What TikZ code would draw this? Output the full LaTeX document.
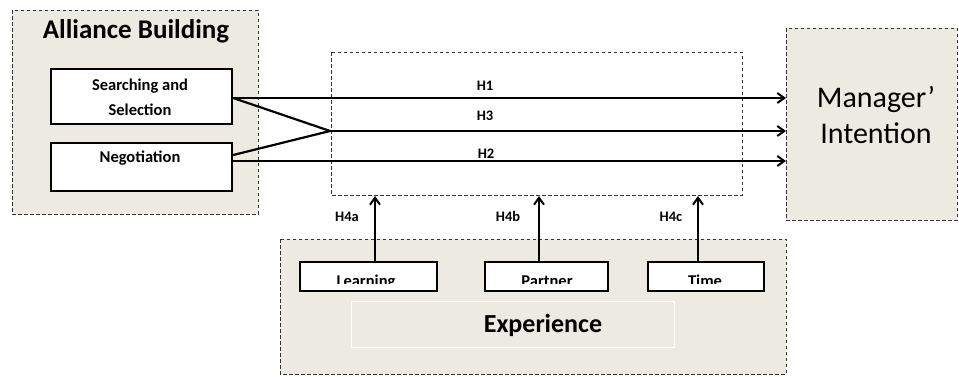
\documentclass[tikz,border=0pt]{standalone}
\usepackage{fontspec}
\setmainfont{Carlito}
\usetikzlibrary{arrows.meta}
\definecolor{panel}{HTML}{EDEAE1}
\tikzset{
  group/.style={draw=black!80, fill=panel, dash pattern=on 3.5pt off 2.5pt, line width=0.9pt},
  frame/.style={draw=black!80, dash pattern=on 3.5pt off 2.5pt, line width=0.9pt},
  item/.style={draw=black, fill=white, line width=2.2pt},
  link/.style={line width=2.2pt, -{Straight Barb[length=7pt,width=10pt,line width=2pt]}},
  plain/.style={line width=2.2pt},
  hyp/.style={font=\bfseries\fontsize{14.5}{18}\selectfont, inner sep=0pt, anchor=base},
  small/.style={font=\bfseries\fontsize{16.5}{20}\selectfont, inner sep=0pt}
}
\begin{document}
\begin{tikzpicture}[x=1pt,y=-1pt]
\useasboundingbox (0,0) rectangle (959,376);

% outer groups
\path[group] (12,10) rectangle (258,214);
\path[group] (786,28) rectangle (957,220);
\path[group] (280,239) rectangle (786,374);
\path[frame] (331,52) rectangle (742,195);

% alliance building
\node[font=\bfseries\fontsize{27}{32}\selectfont, inner sep=0pt] (ttl) at (136,31) {Alliance Building};
\node[item, minimum width=181pt, minimum height=55pt, anchor=north west] (ss) at (50,68) {};
\node[small] at (140,86) {Searching and};
\node[small] at (140,110) {Selection};
\node[item, minimum width=181pt, minimum height=48pt, anchor=north west] (ng) at (50,142) {};
\node[small] at (140,158) {Negotiation};

% manager intention
\node[font=\fontsize{30}{36}\selectfont, align=center, inner sep=0pt] (mi) at (876,115) {Manager’\\Intention};
\coordinate (t1) at (786,98);
\coordinate (t3) at (786,131);
\coordinate (t2) at (786,161);
\coordinate (jn) at (330,131);

% hypotheses
\node[hyp] (h1) at (485,90) {H1};
\node[hyp] (h3) at (485,120) {H3};
\node[hyp] (h2) at (486,158) {H2};
\draw[link] (ss.east |- t1) -- (t1);
\draw[plain] (ss.east |- t1) -- (jn);
\draw[plain] (ng.east |- 0,155) -- (jn);
\draw[link] (jn) -- (t3);
\draw[link] (ng.east |- t2) -- (t2);

% experience
\node[draw=white, line width=1pt, fill=panel, minimum width=323pt, minimum height=46pt] (ex) at (512.5,324) {};
\node[font=\bfseries\fontsize{26}{30}\selectfont, inner sep=0pt] at (543,325) {Experience};
\node[item, minimum width=137pt, minimum height=29pt, anchor=north west] (le) at (299,261) {};
\node[item, minimum width=123pt, minimum height=29pt, anchor=north west] (pa) at (484,261) {};
\node[item, minimum width=116pt, minimum height=29pt, anchor=north west] (ti) at (647,261) {};
\begin{scope}
  \clip (299,262) rectangle (763,283.5);
  \node[small, anchor=base] at (366,286) {Learning};
  \node[small, anchor=base] at (547,286) {Partner};
  \node[small, anchor=base] at (705,286) {Time};
\end{scope}
\coordinate (a1) at (375,196);
\coordinate (a2) at (539,196);
\coordinate (a3) at (698,196);
\draw[link] (le.north -| a1) -- (a1);
\draw[link] (pa.north -| a2) -- (a2);
\draw[link] (ti.north -| a3) -- (a3);
\node[hyp] at (347,221) {H4a};
\node[hyp] at (508,221) {H4b};
\node[hyp] at (671,221) {H4c};
\end{tikzpicture}
\end{document}
